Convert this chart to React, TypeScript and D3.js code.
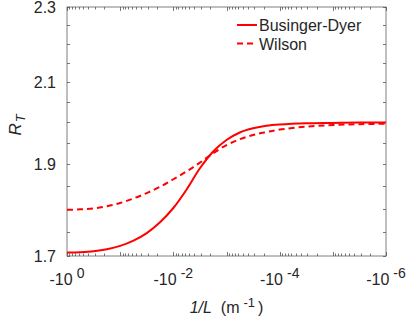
import * as d3 from "d3";
import { useEffect, useRef } from "react";

// 1/L (m^-1), all negative, from -10^0 to -10^-6
const invL = [-1, -0.5623, -0.3162, -0.1778, -0.1, -0.05623, -0.03162, -0.01778, -0.01,
  -0.005623, -0.003162, -0.001778, -0.001, -0.0005623, -0.0003162, -0.0001778, -0.0001,
  -0.00003162, -0.00001, -0.000003162, -0.000001];

const businger = [1.707, 1.708, 1.71, 1.714, 1.721, 1.732, 1.748, 1.771, 1.802, 1.843, 1.891,
  1.93, 1.957, 1.975, 1.985, 1.991, 1.994, 1.997, 1.998, 1.999, 1.999];
const wilson = [1.798, 1.799, 1.801, 1.806, 1.813, 1.823, 1.835, 1.849, 1.866, 1.884, 1.904,
  1.926, 1.945, 1.959, 1.969, 1.976, 1.982, 1.989, 1.993, 1.995, 1.996];

const yTicks = [1.7, 1.9, 2.1, 2.3];
const yMinor = [1.75, 1.8, 1.85, 1.95, 2.0, 2.05, 2.15, 2.2, 2.25];
const xLabelExps = ["0", "-2", "-4", "-6"];

const seriesNames = ["Businger-Dyer", "Wilson"];

export default function App() {
  const svgRef = useRef(null);

  useEffect(() => {
    if (!svgRef.current) return;
    const svg = d3.select(svgRef.current);
    svg.selectAll("*").remove();

    const width = 407, height = 319;
    const left = 67, right = 386, top = 7, bottom = 256;
    const font = "'Liberation Sans', Arial, Helvetica, sans-serif";
    const axisColor = "#808080";
    const textColor = "#262626";

    const x = d3.scaleLog().domain([-1, -1e-6]).range([left, right]);
    const y = d3.scaleLog().domain([1.7, 2.3]).range([bottom, top]);

    svg.attr("width", width).attr("height", height)
      .attr("viewBox", [0, 0, width, height])
      .style("font-family", font);

    // axis box
    svg.append("rect")
      .attr("x", left).attr("y", top)
      .attr("width", right - left).attr("height", bottom - top)
      .attr("fill", "none").attr("stroke", axisColor).attr("stroke-width", 1);

    // x ticks (bottom and top, inward)
    const xt = x.ticks();
    const isDecade = (v) => Math.abs(Math.log10(-v) - Math.round(Math.log10(-v))) < 1e-6;
    const g = svg.append("g").attr("stroke", "#555").attr("stroke-width", 0.8);
    xt.forEach(v => {
      const px = Math.round(x(v)) + 0.5;
      const len = isDecade(v) ? 4 : 2.5;
      g.append("line").attr("x1", px).attr("x2", px).attr("y1", bottom).attr("y2", bottom - len);
      g.append("line").attr("x1", px).attr("x2", px).attr("y1", top).attr("y2", top + len);
    });
    // y ticks (left and right, inward)
    [...yTicks, ...yMinor].forEach(v => {
      const py = Math.round(y(v)) + 0.5;
      g.append("line").attr("x1", left).attr("x2", left + 3).attr("y1", py).attr("y2", py);
      g.append("line").attr("x1", right).attr("x2", right - 3).attr("y1", py).attr("y2", py);
    });

    // y tick labels
    svg.append("g").selectAll("text").data(yTicks).join("text")
      .attr("x", 56).attr("y", d => y(d)).attr("dy", "0.36em")
      .attr("text-anchor", "end").attr("font-size", 16).attr("fill", textColor)
      .text(d => d3.format(".1f")(d));

    // x tick labels: -10^k
    const xl = svg.append("g");
    xLabelExps.forEach(e => {
      const t = xl.append("text")
        .attr("x", x(-Math.pow(10, +e))).attr("y", 285)
        .attr("text-anchor", "middle").attr("font-size", 16).attr("fill", textColor);
      t.append("tspan").text("-10");
      t.append("tspan").attr("dx", 4).attr("dy", -7).attr("font-size", 14).text(e);
    });

    // axis titles
    const xt2 = svg.append("text")
      .attr("x", (left + right) / 2).attr("y", 313)
      .attr("text-anchor", "middle").attr("font-size", 16).attr("fill", textColor);
    xt2.append("tspan").attr("font-style", "italic").text("1/L");
    xt2.append("tspan").text("\u00a0\u00a0(m");
    xt2.append("tspan").attr("dx", 4).attr("dy", -6).attr("font-size", 13).text("-1");
    xt2.append("tspan").attr("dx", 3).attr("dy", 6).text(")");

    const yt = svg.append("text")
      .attr("transform", "translate(21,125) rotate(-90)")
      .attr("text-anchor", "middle").attr("font-size", 17)
      .attr("font-style", "italic").attr("fill", textColor);
    yt.append("tspan").text("R");
    yt.append("tspan").attr("dy", 4).attr("dx", 1).attr("font-size", 13).text("T");

    // curves
    const line = d3.line()
      .x(d => x(d[0]))
      .y(d => y(d[1]))
      .curve(d3.curveCatmullRom.alpha(0.5));

    const series = [businger, wilson];
    const dashes = [null, "6,4"];
    series.forEach((vals, i) => {
      svg.append("path")
        .datum(invL.map((v, j) => [v, vals[j]]))
        .attr("d", line)
        .attr("fill", "none").attr("stroke", "#ff0000").attr("stroke-width", 2)
        .attr("stroke-dasharray", dashes[i]);
    });

    // legend
    const lg = svg.append("g");
    seriesNames.forEach((name, i) => {
      const ly = 25 + i * 18.5;
      lg.append("line")
        .attr("x1", 237).attr("x2", 257).attr("y1", ly).attr("y2", ly)
        .attr("stroke", "#ff0000").attr("stroke-width", 2)
        .attr("stroke-dasharray", dashes[i] ? "6,4" : null);
      lg.append("text")
        .attr("x", 259).attr("y", ly + 6)
        .attr("font-size", 16).attr("fill", textColor)
        .text(name);
    });
  }, []);

  return <svg ref={svgRef} style={{ position: "absolute", left: 0, top: 0 }}></svg>;
}
